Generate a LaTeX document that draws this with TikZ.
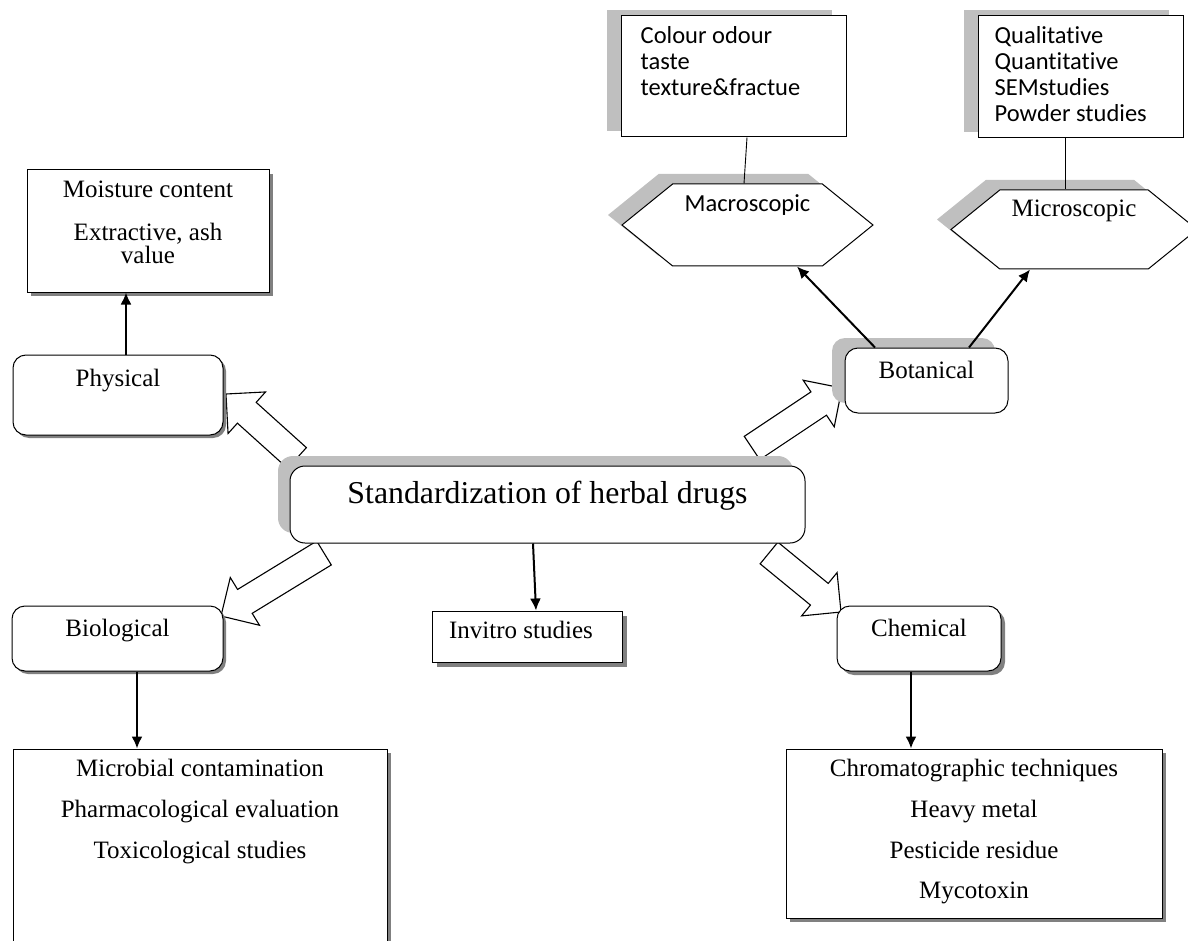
\documentclass[tikz,border=0pt]{standalone}
\usepackage{fontspec}
\setmainfont{Liberation Serif}
\newfontfamily\calibri[RawFeature={-liga;-clig;-dlig}]{Carlito}
\usetikzlibrary{shapes.symbols,shadows,positioning,calc,arrows.meta,backgrounds}

\newcommand{\bodyfont}{\fontsize{25}{23}\selectfont}
\newcommand{\sansfont}{\calibri\fontsize{24.5}{26}\selectfont}
\newcommand{\titlefont}{\fontsize{31.8}{36}\selectfont}

% open block arrow from #1 (tail) to #2 (tip)
\newcommand{\hollowarrow}[2]{%
  \draw[hollow] let \p1=($(#2)-(#1)$), \n1={veclen(\x1,\y1)}, \n2={atan2(\y1,\x1)} in
    ($(#1)+(\n2+90:14)$) -- ++(\n2:{\n1-28}) -- ++(\n2+90:14) -- (#2)
    -- ($(#1)+(\n2:{\n1-28})+(\n2-90:28)$) -- ++(\n2+90:14)
    -- ($(#1)+(\n2-90:14)$) -- cycle;}

\tikzset{
  box/.style={draw, fill=white, line width=1pt, inner sep=0pt},
  rbox/.style={box, rounded corners=13pt},
  hexa/.style={box, signal, signal to=east and west, signal pointer angle=78},
  darkshadow/.style={drop shadow={shadow xshift=#1pt, shadow yshift=-#1pt, fill=black!50, opacity=1}},
  greyshadow/.style 2 args={drop shadow={shadow xshift=#1pt, shadow yshift=#2pt, fill=black!25, opacity=1}},
  txt/.style={inner sep=0pt, align=center, font=\bodyfont},
  conn/.style={line width=2pt, -{Latex[length=12pt,width=11pt]}},
  thin/.style={line width=0.9pt},
  hollow/.style={draw, fill=white, line width=1.1pt, line join=miter}
}

\begin{document}
\begin{tikzpicture}[x=1pt, y=1pt]
  \useasboundingbox (0,0) rectangle (1188,-941);

  % centre
  \node[rbox, rounded corners=15pt, greyshadow={-12}{10}, minimum width=515pt, minimum height=77pt] (std) at (547.5,-504.5) {};
  \node[txt, font=\titlefont, below=15pt of std.north] (stdtxt) {Standardization of herbal drugs};

  % physical
  \node[rbox, darkshadow=3, minimum width=210pt, minimum height=80pt] (phys) at (118,-395) {};
  \node[txt, below=14pt of phys.north] (phystxt) {Physical};
  \node[box, darkshadow=4, minimum width=242pt, minimum height=122pt] (moist) at (148,-231) {};
  \node[txt, below=11pt of moist.north] (moisttxt) {Moisture content\\[20pt]Extractive, ash\\value};

  % botanical
  \node[rbox, greyshadow={-13}{10}, minimum width=163pt, minimum height=65pt] (bot) at (926.5,-380.5) {};
  \node[txt, below=13pt of bot.north] (bottxt) {Botanical};
  \node[hexa, greyshadow={-14}{10}, minimum width=251pt, minimum height=82pt] (macro) at (747.5,-225) {};
  \node[txt, font=\sansfont, below=11pt of macro.north] (macrotxt) {Macroscopic};
  \node[hexa, greyshadow={-14}{10}, minimum width=246pt, minimum height=79pt] (micro) at (1074,-229.5) {};
  \node[txt, below=10pt of micro.north] (microtxt) {Microscopic};
  \node[box, greyshadow={-14}{6}, minimum width=225pt, minimum height=121pt] (colour) at (733.5,-76.5) {};
  \node[txt, font=\sansfont, align=left, anchor=north west] (colourtxt) at ([xshift=20pt, yshift=-11pt]colour.north west) {Colour odour\\taste\\texture\&fractue};
  \node[box, greyshadow={-14}{6}, minimum width=205pt, minimum height=122pt] (qual) at (1080.5,-77) {};
  \node[txt, font=\sansfont, align=left, anchor=north west] (qualtxt) at ([xshift=17pt, yshift=-11pt]qual.north west) {Qualitative\\Quantitative\\SEMstudies\\Powder studies};

  % biological, invitro, chemical
  \node[rbox, darkshadow=3, minimum width=211pt, minimum height=65pt] (bio) at (117.5,-638.5) {};
  \node[txt, below=13pt of bio.north] (biotxt) {Biological};
  \node[box, darkshadow=5, minimum width=190pt, minimum height=51pt] (invitro) at (527,-636.5) {};
  \node[txt, below=10pt of invitro.north, xshift=-6pt] (invitrotxt) {Invitro studies};
  \node[rbox, darkshadow=4, minimum width=164pt, minimum height=65pt] (chem) at (919,-638.5) {};
  \node[txt, below=13pt of chem.north] (chemtxt) {Chemical};
  \node[box, darkshadow=4, minimum width=374pt, minimum height=230pt] (biolist) at (200,-864) {};
  \node[txt, below=10pt of biolist.north] (biolisttxt) {Microbial contamination\\[18pt]Pharmacological evaluation\\[18pt]Toxicological studies};
  \node[box, darkshadow=4, minimum width=376pt, minimum height=169pt] (chemlist) at (974,-833.5) {};
  \node[txt, below=10pt of chemlist.north] (chemlisttxt) {Chromatographic techniques\\[18pt]Heavy metal\\[18pt]Pesticide residue\\[17pt]Mycotoxin};

  % connectors
  \coordinate (pa) at ([xshift=8pt]phys.north);
  \draw[conn] (pa) -- (pa |- moist.south);
  \draw[thin] ([xshift=13.5pt]colour.south) -- ([xshift=-3.5pt]macro.north);
  \draw[thin] ([xshift=-15.5pt]qual.south) -- ([xshift=-9pt]micro.north);
  \draw[conn] ([xshift=-51.5pt]bot.north) -- ([xshift=49.5pt]macro.south);
  \draw[conn] ([xshift=42.5pt]bot.north) -- ([xshift=-44pt]micro.south);
  \draw[conn] ([xshift=-14.5pt]std.south) -- ([xshift=9pt]invitro.north);
  \coordinate (ba) at ([xshift=19.5pt]bio.south);
  \draw[conn] (ba) -- (ba |- biolist.north);
  \coordinate (ca) at ([xshift=-8pt]chem.south);
  \draw[conn] (ca) -- (ca |- chemlist.north);

  % open arrows from the centre box
  \coordinate (t1) at (297,-458);  \coordinate (h1) at (226,-394);
  \coordinate (t2) at (752,-448);  \coordinate (h2) at (842,-388);
  \coordinate (t3) at (324,-553);  \coordinate (h3) at (221,-616);
  \coordinate (t4) at (769,-553);  \coordinate (h4) at (841,-612);
  \begin{scope}[on background layer]
    \hollowarrow{t1}{h1}
    \hollowarrow{t2}{h2}
    \hollowarrow{t3}{h3}
    \hollowarrow{t4}{h4}
  \end{scope}
\end{tikzpicture}
\end{document}
